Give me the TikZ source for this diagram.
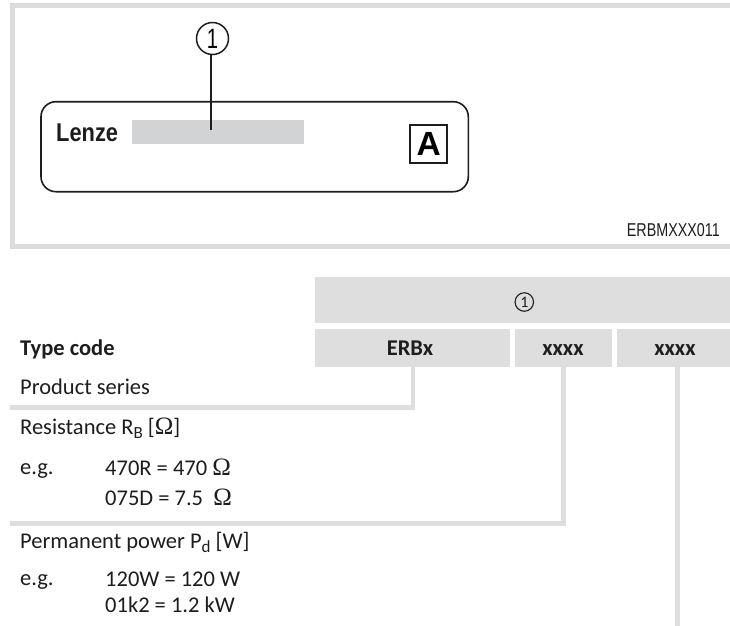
\documentclass[tikz,border=0pt]{standalone}
\usepackage{fontspec}
\setmainfont{Carlito}
\newfontfamily\helv{Liberation Sans}
\newfontfamily\omg{Liberation Serif}
\definecolor{lgray}{HTML}{DEDEDE}
\definecolor{fgray}{HTML}{DCDCDC}
\definecolor{bargray}{HTML}{D2D3D5}
\definecolor{ink}{HTML}{1E1C1D}
\newcommand{\Om}{{\omg\fontsize{25}{27}\selectfont\char"03A9}}
\begin{document}
\begin{tikzpicture}[x=1pt,y=-1pt,
  txt/.style={anchor=base west,inner sep=0pt,text=ink,font=\fontsize{22.5}{27}\selectfont},
  btxt/.style={anchor=base,inner sep=0pt,text=ink,font=\fontsize{22.5}{27}\selectfont\bfseries},
  hbox/.style={fill=lgray,draw=none},
  gline/.style={draw=lgray,line width=4.5pt},
  blk/.style={draw=ink,line width=1.6pt}]
\useasboundingbox (0,0) rectangle (730,625);
\clip (0,0) rectangle (730,625);
% top frame
\draw[draw=fgray,line width=5pt] (760,5.5) -- (12.5,5.5) -- (12.5,246.5) -- (760,246.5);
% label plate
\draw[blk,rounded corners=15pt] (41,101.7) rectangle (468.3,191.7);
\fill[bargray] (132,120) rectangle (304,144);
\node[anchor=base west,inner sep=0pt,text=ink] (lenze) at (56,141.7)
  {\scalebox{0.85}[1]{\helv\bfseries\fontsize{25.7}{28}\selectfont Lenze}};
\node[draw=ink,line width=1.8pt,minimum width=37.3pt,minimum height=37.7pt,inner sep=0pt] (abox) at (428.7,143.8)
  {\helv\bfseries\fontsize{33.5}{34}\selectfont A};
\node[circle,draw=ink,line width=1.5pt,minimum size=32pt,inner sep=0pt] (c1) at (212.5,38.5)
  {\scalebox{0.72}[1]{\helv\fontsize{28}{28}\selectfont 1}};
\coordinate (ptr) at (211,130);
\draw[blk] (c1.south -| ptr) -- (ptr);
\node[anchor=base east,inner sep=0pt,text=ink] (code) at (720,236)
  {\scalebox{0.77}[1]{\helv\fontsize{18.6}{20}\selectfont ERBMXXX011}};
% table header
\fill[hbox] (315,277) rectangle (740,323.3);
\node[circle,draw=ink,line width=1.1pt,minimum size=18.5pt,inner sep=0pt,text=ink] (hdr) at (524.3,302)
  {\fontsize{16}{16}\selectfont 1};
\fill[hbox] (315,329) rectangle (510,367.3);
\fill[hbox] (515,329) rectangle (612,367.3);
\fill[hbox] (617,329) rectangle (740,367.3);
\node[btxt] (erbx) at (410,355) {ERBx};
\node[btxt] (x1) at (563,355) {xxxx};
\node[btxt] (x2) at (675,355) {xxxx};
\coordinate (b1) at (412.8,367.3);
\coordinate (b2) at (563.3,367.3);
\coordinate (b3) at (677.7,367.3);
\coordinate (e1) at (10,407.5);
\coordinate (e2) at (10,523.3);
\coordinate (e3) at (677.7,630);
\draw[gline] (b1) |- (e1);
\draw[gline] (b2) |- (e2);
\draw[gline] (b3) -- (e3);
% texts
\node[txt,font=\fontsize{22.5}{27}\selectfont\bfseries] (tc) at (20,355) {Type code};
\node[txt] (ps) at (20,394) {Product series};
\node[txt] (rs) at (20,434) {Resistance R\raisebox{-4.5pt}{\fontsize{17}{17}\selectfont B} [\Om]};
\node[txt] (eg1) at (20,474) {e.g.};
\node[txt] (r1) at (105,475) {470R = 470 \Om};
\node[txt] (r2) at (105,505) {075D = 7.5 \ \Om};
\node[txt] (pp) at (20,548) {Permanent power P\raisebox{-4.5pt}{\fontsize{17}{17}\selectfont d} [W]};
\node[txt] (eg2) at (20,585) {e.g.};
\node[txt] (p1) at (105,586) {120W = 120 W};
\node[txt] (p2) at (105,612) {01k2 = 1.2 kW};
\end{tikzpicture}
\end{document}
